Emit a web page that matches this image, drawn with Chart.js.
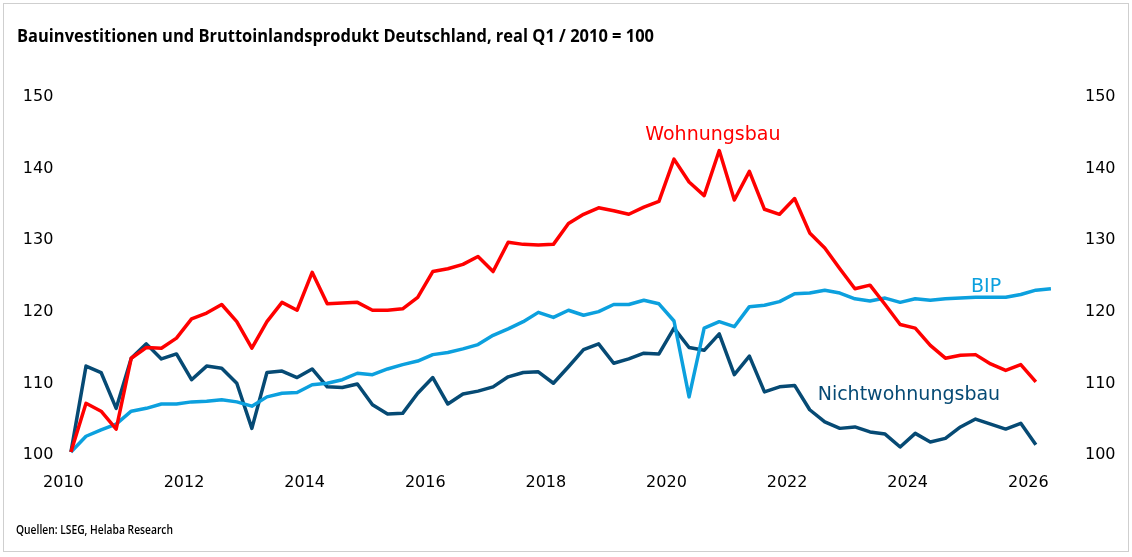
<!DOCTYPE html>
<html lang="de">
<head>
    <meta charset="utf-8">
    <title>Bauinvestitionen und BIP</title>
    <script src="https://cdn.jsdelivr.net/npm/chart.js"></script>
    <style>
        html, body {
            margin: 0;
            padding: 0;
            background: #fff;
        }

        #wrap {
            position: relative;
            width: 1132px;
            height: 557px;
        }
    </style>
</head>
<body>
<div id="wrap">
    <canvas id="myChart" width="1132" height="557"></canvas>
</div>
<script>
    // Quartale Q1 2010 bis Q2 2026 (x = Jahr + Quartalsmitte)
    const startYear = 2010;
    const yearTicks = [2010, 2012, 2014, 2016, 2018, 2020, 2022, 2024, 2026];
    const valueTicks = [100, 110, 120, 130, 140, 150];

    const wohnungsbau = [
        100.0, 106.8, 105.7, 103.2, 113.1, 114.6, 114.5, 115.9, 118.6, 119.4,
        120.6, 118.2, 114.5, 118.2, 120.9, 119.8, 125.1, 120.7, 120.8, 120.9,
        119.8, 119.8, 120.0, 121.6, 125.2, 125.6, 126.2, 127.3, 125.2, 129.3,
        129.0, 128.9, 129.0, 131.9, 133.2, 134.1, 133.7, 133.2, 134.2, 135.0,
        140.9, 137.7, 135.8, 142.1, 135.2, 139.2, 133.9, 133.2, 135.4, 130.6,
        128.5, 125.6, 122.8, 123.3, 120.6, 117.8, 117.3, 114.9, 113.1, 113.5,
        113.6, 112.3, 111.4, 112.2, 109.8
    ];

    const nichtwohnungsbau = [
        100.0, 112.0, 111.1, 106.1, 113.1, 115.1, 113.0, 113.7, 110.1, 112.0,
        111.7, 109.6, 103.3, 111.1, 111.3, 110.4, 111.6, 109.1, 109.0, 109.5,
        106.6, 105.3, 105.4, 108.2, 110.4, 106.7, 108.1, 108.5, 109.1, 110.5,
        111.1, 111.2, 109.6, 111.9, 114.3, 115.1, 112.4, 113.0, 113.8, 113.7,
        117.3, 114.6, 114.2, 116.5, 110.8, 113.4, 108.4, 109.1, 109.3, 105.9,
        104.2, 103.3, 103.5, 102.8, 102.5, 100.7, 102.6, 101.4, 101.9, 103.5,
        104.6, 103.9, 103.2, 104.0, 101.0
    ];

    const bip = [
        100.0, 102.2, 103.1, 103.9, 105.7, 106.1, 106.7, 106.7, 107.0, 107.1,
        107.3, 107.0, 106.4, 107.7, 108.2, 108.3, 109.4, 109.6, 110.1, 111.0,
        110.8, 111.6, 112.2, 112.7, 113.6, 113.9, 114.4, 115.0, 116.3, 117.2,
        118.2, 119.5, 118.8, 119.8, 119.1, 119.6, 120.6, 120.6, 121.2, 120.7,
        118.3, 107.7, 117.3, 118.2, 117.5, 120.3, 120.5, 121.0, 122.1, 122.2,
        122.6, 122.2, 121.4, 121.1, 121.5, 120.9, 121.4, 121.2, 121.4, 121.5,
        121.6, 121.6, 121.6, 122.0, 122.6, 122.8
    ];

    const colors = {
        wohnungsbau: '#ff0000',
        nichtwohnungsbau: '#064a74',
        bip: '#0ca0de'
    };

    function toPoints(values) {
        return values.map((v, i) => ({x: startYear + i / 4 + 0.125, y: v}));
    }

    const seriesLabels = [
        {text: 'Wohnungsbau', x: 2020.77, y: 144.3, color: colors.wohnungsbau},
        {text: 'BIP', x: 2025.3, y: 123.0, color: colors.bip},
        {text: 'Nichtwohnungsbau', x: 2024.02, y: 107.9, color: colors.nichtwohnungsbau}
    ];

    // schmaler Text: auf Zielbreite gestaucht (keine Condensed-Schrift installiert)
    function narrowText(ctx, text, x, y, width) {
        const w = ctx.measureText(text).width;
        ctx.save();
        ctx.translate(x, y);
        ctx.scale(width / w, 1);
        ctx.fillText(text, 0, 0);
        ctx.restore();
    }

    const decorPlugin = {
        id: 'decor',
        beforeDraw(chart) {
            const ctx = chart.ctx;
            ctx.save();
            ctx.strokeStyle = '#cfcfcf';
            ctx.lineWidth = 1;
            ctx.strokeRect(3.5, 3.5, 1125, 548);

            ctx.fillStyle = '#000';
            ctx.textBaseline = 'middle';
            ctx.textAlign = 'left';
            ctx.font = 'bold 17px "Open Sans", sans-serif';
            narrowText(ctx, 'Bauinvestitionen und Bruttoinlandsprodukt Deutschland, real Q1 / 2010 = 100', 17, 37, 637);

            ctx.font = '600 12px "Open Sans", sans-serif';
            narrowText(ctx, 'Quellen: LSEG, Helaba Research', 16, 531, 157);
            ctx.restore();
        },
        afterDatasetsDraw(chart) {
            const ctx = chart.ctx;
            const xs = chart.scales.x;
            const ys = chart.scales.y;
            ctx.save();
            ctx.font = '19px "DejaVu Sans", sans-serif';
            ctx.textAlign = 'center';
            ctx.textBaseline = 'middle';
            seriesLabels.forEach(l => {
                ctx.fillStyle = l.color;
                ctx.fillText(l.text, xs.getPixelForValue(l.x), ys.getPixelForValue(l.y));
            });
            ctx.restore();
        }
    };

    const tickFont = {family: '"DejaVu Sans", sans-serif', size: 16};
    const noGrid = {display: false, drawTicks: false};

    const ctx = document.getElementById('myChart').getContext('2d');
    const chart = new Chart(ctx, {
        type: 'line',
        data: {
            datasets: [
                {
                    label: 'Wohnungsbau',
                    data: toPoints(wohnungsbau),
                    borderColor: colors.wohnungsbau,
                    backgroundColor: colors.wohnungsbau,
                },
                {
                    label: 'BIP',
                    data: toPoints(bip),
                    borderColor: colors.bip,
                    backgroundColor: colors.bip,
                },
                {
                    label: 'Nichtwohnungsbau',
                    data: toPoints(nichtwohnungsbau),
                    borderColor: colors.nichtwohnungsbau,
                    backgroundColor: colors.nichtwohnungsbau,
                },
            ],
        },
        options: {
            responsive: false,
            animation: false,
            devicePixelRatio: 1,
            clip: false,
            layout: {
                padding: {top: 94, left: 0, right: 0, bottom: 0}
            },
            elements: {
                point: {radius: 0},
                line: {borderWidth: 3.5, tension: 0, borderJoinStyle: 'round'}
            },
            plugins: {
                legend: {display: false},
                title: {display: false},
                tooltip: {enabled: false}
            },
            scales: {
                x: {
                    type: 'linear',
                    min: 2010,
                    max: 2026.625,
                    grid: noGrid,
                    border: {display: false},
                    afterFit: axis => { axis.height = 105; },
                    afterBuildTicks: axis => { axis.ticks = yearTicks.map(v => ({value: v})); },
                    ticks: {
                        color: '#000',
                        font: tickFont,
                        padding: 21,
                        maxRotation: 0,
                        autoSkip: false,
                        callback: v => String(v)
                    }
                },
                y: {
                    position: 'left',
                    min: 100,
                    max: 150,
                    grid: noGrid,
                    border: {display: false},
                    afterFit: axis => { axis.width = 63.4; },
                    afterBuildTicks: axis => { axis.ticks = valueTicks.map(v => ({value: v})); },
                    ticks: {color: '#000', font: tickFont, padding: 10, labelOffset: 3}
                },
                y2: {
                    position: 'right',
                    min: 100,
                    max: 150,
                    grid: noGrid,
                    border: {display: false},
                    afterFit: axis => { axis.width = 66; },
                    afterBuildTicks: axis => { axis.ticks = valueTicks.map(v => ({value: v})); },
                    ticks: {color: '#000', font: tickFont, padding: 19, labelOffset: 3}
                }
            }
        },
        plugins: [decorPlugin]
    });
</script>
</body>
</html>
